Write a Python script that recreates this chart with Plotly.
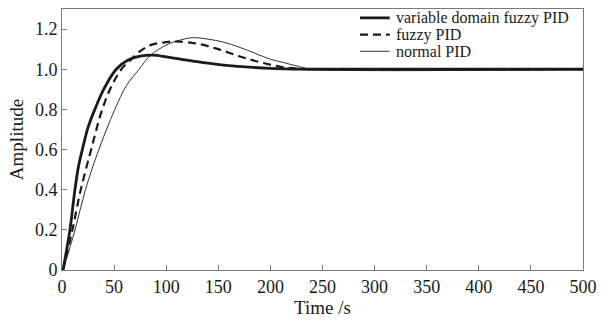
import plotly.graph_objects as go

# --- data ---
t_vd = [1, 7.6, 12.4, 16, 20, 25, 31.5, 40, 52, 63, 75, 87, 100, 120, 140, 160, 180, 200, 220, 240, 500]
y_vd = [0, 0.2, 0.4, 0.52, 0.61, 0.71, 0.8, 0.9, 1.0, 1.045, 1.065, 1.07, 1.062, 1.045, 1.03, 1.018, 1.01, 1.004, 1.001, 1.0, 1.0]

t_fz = [1, 10, 18, 28, 38, 47, 57, 66.6, 75, 85, 100, 110, 130, 150, 170, 190, 210, 230, 250, 500]
y_fz = [0, 0.2, 0.4, 0.6, 0.79, 0.91, 1.0, 1.05, 1.09, 1.12, 1.135, 1.138, 1.127, 1.1, 1.065, 1.035, 1.012, 1.002, 1.0, 1.0]

t_pid = [1, 12.5, 22.5, 34, 50.7, 62, 74, 85, 100, 110, 125, 140, 155, 170, 186, 200, 215, 230, 240, 500]
y_pid = [0, 0.2, 0.4, 0.58, 0.8, 0.92, 1.0, 1.07, 1.12, 1.14, 1.157, 1.15, 1.135, 1.11, 1.078, 1.05, 1.03, 1.01, 1.0, 1.0]

series_names = ["variable domain fuzzy PID", "fuzzy PID", "normal PID"]
x_ticks = [0, 50, 100, 150, 200, 250, 300, 350, 400, 450, 500]
y_ticks = [0, 0.2, 0.4, 0.6, 0.8, 1.0, 1.2]
y_tick_labels = ["0", "0.2", "0.4", "0.6", "0.8", "1.0", "1.2"]

FONT = "Liberation Serif"
INK = "#1a1a1a"
AX = "#7a7a7a"

styles = [
    dict(width=2.8, dash="solid"),
    dict(width=2.2, dash="8px,5px"),
    dict(width=0.9, dash="solid"),
]

fig = go.Figure()
for (tx, ty), name, st in zip([(t_vd, y_vd), (t_fz, y_fz), (t_pid, y_pid)], series_names, styles):
    fig.add_trace(go.Scatter(
        x=tx, y=ty, mode="lines", name=name, showlegend=False,
        line=dict(color=INK, width=st["width"], dash=st["dash"], shape="spline", smoothing=1.0),
    ))

# compact legend drawn with shapes + annotations (paper coordinates)
legend_rows = [0.966, 0.902, 0.838]
for name, st, yy in zip(series_names, styles, legend_rows):
    fig.add_shape(type="line", xref="paper", yref="paper",
                  x0=0.572, x1=0.629, y0=yy, y1=yy,
                  line=dict(color=INK, width=st["width"], dash=st["dash"]))
    fig.add_annotation(xref="paper", yref="paper", x=0.638, y=yy, text=name,
                       showarrow=False, xanchor="left", yanchor="middle",
                       font=dict(family=FONT, size=16, color=INK))

fig.update_layout(
    width=605, height=320,
    margin=dict(l=62, r=19, t=8, b=46),
    paper_bgcolor="white", plot_bgcolor="white",
    font=dict(family=FONT, size=18, color=INK),
    showlegend=False,
)
fig.update_xaxes(
    range=[0, 500], tickvals=x_ticks, ticktext=[str(v) for v in x_ticks],
    showgrid=False, zeroline=False, showline=True, linecolor=AX, linewidth=1,
    mirror=True, ticks="inside", ticklen=5, tickcolor=AX,
    title=dict(text="Time /s", font=dict(family=FONT, size=19), standoff=2),
    tickfont=dict(family=FONT, size=18),
)
fig.update_yaxes(
    range=[0, 1.3], tickvals=y_ticks, ticktext=y_tick_labels,
    showgrid=False, zeroline=False, showline=True, linecolor=AX, linewidth=1,
    mirror=True, ticks="inside", ticklen=5, tickcolor=AX,
    title=dict(text="Amplitude", font=dict(family=FONT, size=19), standoff=6),
    tickfont=dict(family=FONT, size=18),
)

fig.write_html("out.html", config={"displayModeBar": False},
               post_script="document.body.style.margin='0';document.body.style.padding='0';")
